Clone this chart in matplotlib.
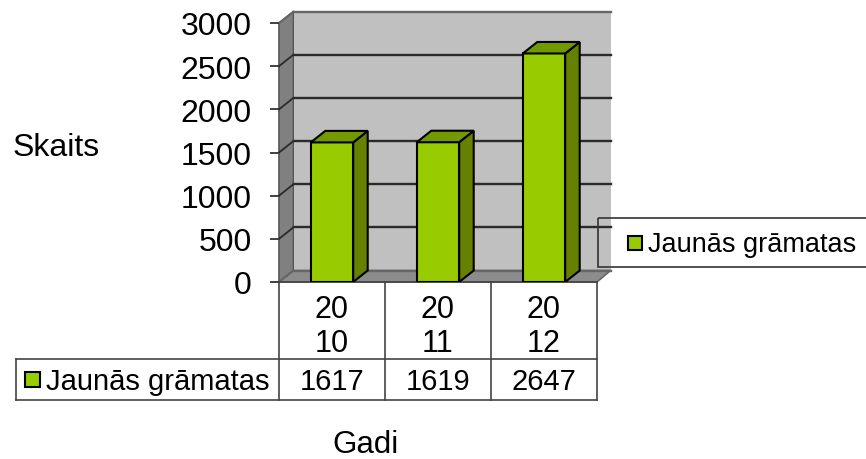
import matplotlib
matplotlib.use("Agg")
import matplotlib.pyplot as plt
from matplotlib.patches import Polygon, Rectangle

plt.rcParams["font.family"] = ["Liberation Sans", "DejaVu Sans"]

# dati
years = ["20\n10", "20\n11", "20\n12"]
values = [1617, 1619, 2647]
series_name = "Jaunās grāmatas"
yticks = [0, 500, 1000, 1500, 2000, 2500, 3000]

W, H = 866, 460
front_l, front_r = 279, 597
front_b, front_t = 283, 24
dx, dy = 14.5, 11.5
col_w = (front_r - front_l) / len(values)

fig = plt.figure(figsize=(W / 100, H / 100), dpi=100)

# pixel axes for walls, table and texts
bg = fig.add_axes([0, 0, 1, 1])
bg.set_xlim(0, W)
bg.set_ylim(H, 0)
bg.axis("off")

# data axes = front plane of the 3D box
ax = fig.add_axes([front_l / W, 1 - front_b / H,
                   (front_r - front_l) / W, (front_b - front_t) / H])
ax.patch.set_alpha(0)
ax.set_xlim(0, len(values))
ax.set_ylim(0, 3000)
for s in ax.spines.values():
    s.set_visible(False)
ax.set_xticks([])
ax.set_yticks(yticks)
ax.tick_params(axis="y", length=6.5, width=1.3, color="#333333", labelsize=23, pad=13)


def ypx(v):
    return front_b - v * (front_b - front_t) / 3000


# walls
bg.add_patch(Polygon([(front_l, ypx(3000)), (front_l + dx, ypx(3000) - dy),
                      (front_l + dx, ypx(0) - dy), (front_l, ypx(0))],
                     fc="#808080", ec="#555555", lw=1.2))
bg.add_patch(Rectangle((front_l + dx, ypx(3000) - dy), front_r - front_l - 1, ypx(0) - ypx(3000),
                       fc="#c0c0c0", ec="none"))
bg.add_patch(Polygon([(front_l, ypx(0)), (front_l + dx, ypx(0) - dy),
                      (front_r + dx - 1, ypx(0) - dy), (front_r, ypx(0))],
                     fc="#8c8c8c", ec="#666666", lw=1.2))
for v in yticks:
    y = ypx(v)
    c = "#666666" if v in (0, 3000) else "#2a2a2a"
    bg.plot([front_l + dx, front_r + dx - 1], [y - dy, y - dy], color=c, lw=1.7, zorder=2)
    bg.plot([front_l, front_l + dx], [y, y - dy], color=c, lw=1.3, zorder=2)

# bars
x_pos = [i + 0.5 for i in range(len(values))]
bar_w = 0.4
ddx = dx / col_w
ddy = dy * 3000 / (front_b - front_t)
ax.bar(x_pos, values, width=bar_w, color="#99cc00", edgecolor="black", linewidth=1.5, zorder=3)
for x, v in zip(x_pos, values):
    r = x + bar_w / 2
    l = x - bar_w / 2
    ax.add_patch(Polygon([(r, 0), (r + ddx, ddy), (r + ddx, v + ddy), (r, v)],
                         fc="#668000", ec="black", lw=1.5, zorder=3))
    ax.add_patch(Polygon([(l, v), (l + ddx, v + ddy), (r + ddx, v + ddy), (r, v)],
                         fc="#739900", ec="black", lw=1.5, zorder=3))

# table
tb_mid, tb_bot = 360, 401
tb_left = 16
line = dict(color="#444444", lw=1.2, zorder=4)
bg.plot([front_l, front_r], [front_b, front_b], **line)
bg.plot([tb_left, front_r], [tb_mid, tb_mid], **line)
bg.plot([tb_left, front_r], [tb_bot, tb_bot], **line)
bg.plot([tb_left, tb_left], [tb_mid, tb_bot], **line)
for i in range(len(values) + 1):
    xx = front_l + i * col_w
    bg.plot([xx, xx], [front_b, tb_bot], **line)
for i in range(len(values)):
    xx = front_l + (i + 0.5) * col_w
    bg.text(xx, 327, years[i], ha="center", va="center", fontsize=22, linespacing=1.15)
    bg.text(xx, 382, str(values[i]), ha="center", va="center", fontsize=21)

# series key in table
bg.add_patch(Rectangle((25, 373), 15, 15, fc="#99cc00", ec="black", lw=1.5))
bg.text(46, 382, series_name, ha="left", va="center", fontsize=21)

# legend
bg.add_patch(Rectangle((598, 219), 280, 49, fc="none", ec="#333333", lw=1.2, zorder=4))
bg.add_patch(Rectangle((628, 237), 14, 14, fc="#99cc00", ec="black", lw=1.5))
bg.text(648, 245, series_name, ha="left", va="center", fontsize=19.5)

# axis titles
bg.text(56, 148, "Skaits", ha="center", va="center", fontsize=23)
bg.text(365, 445, "Gadi", ha="center", va="center", fontsize=22.5)

fig.savefig("out.png", dpi=100)
